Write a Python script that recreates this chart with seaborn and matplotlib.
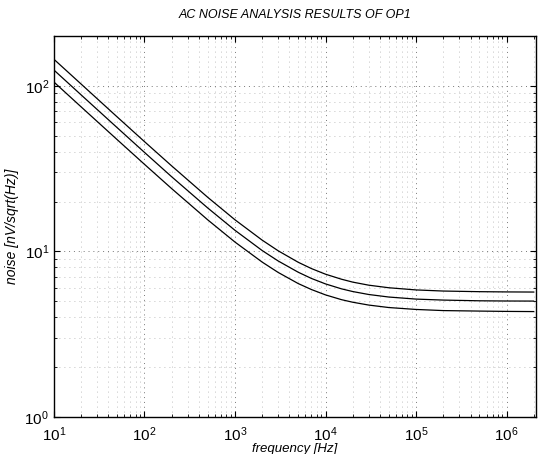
import matplotlib
matplotlib.use("Agg")
import matplotlib.pyplot as plt
import matplotlib.ticker as mticker
import numpy as np
import pandas as pd
import seaborn as sns

# frequency points (Hz)
freq = [10, 20, 50, 100, 200, 500, 1e3, 2e3, 3e3, 5e3, 7e3, 1e4, 1.5e4, 2e4,
        3e4, 5e4, 1e5, 2e5, 5e5, 1e6, 2e6]

# noise curves, nV/sqrt(Hz)
noise_top = [144.5, 102.3, 64.8, 46.0, 32.8, 21.2, 15.51, 11.68, 10.08, 8.59,
             7.87, 7.28, 6.79, 6.52, 6.25, 6.03, 5.85, 5.76, 5.71, 5.69, 5.68]
noise_mid = [124.4, 88.0, 55.8, 39.6, 28.2, 18.28, 13.40, 10.11, 8.75, 7.48,
             6.86, 6.36, 5.94, 5.72, 5.49, 5.30, 5.15, 5.08, 5.03, 5.015, 5.01]
noise_low = [105.3, 74.5, 47.25, 33.55, 23.92, 15.50, 11.38, 8.61, 7.46, 6.39,
             5.88, 5.46, 5.11, 4.93, 4.74, 4.58, 4.46, 4.39, 4.36, 4.34, 4.33]

df = pd.DataFrame({
    "freq": freq * 3,
    "noise": noise_top + noise_mid + noise_low,
    "curve": ["top"] * len(freq) + ["mid"] * len(freq) + ["low"] * len(freq),
})

sns.set_style("ticks")
plt.rcParams["font.family"] = ["Liberation Sans", "DejaVu Sans"]
plt.rcParams["text.color"] = "black"
plt.rcParams["axes.labelcolor"] = "black"
plt.rcParams["xtick.color"] = "black"
plt.rcParams["ytick.color"] = "black"

fig = plt.figure(figsize=(5.39, 4.54), dpi=100)
ax = fig.add_axes([0.100, 0.0815, 0.894, 0.8395])

sns.lineplot(data=df, x="freq", y="noise", units="curve", estimator=None,
             color="black", linewidth=0.9, ax=ax, legend=False)

ax.set_xscale("log")
ax.set_yscale("log")
ax.set_xlim(10, 2.1e6)
ax.set_ylim(1, 200)

ax.xaxis.set_major_locator(mticker.LogLocator(base=10, numticks=10))
ax.yaxis.set_major_locator(mticker.LogLocator(base=10, numticks=10))
ax.xaxis.set_minor_locator(mticker.LogLocator(base=10, subs=np.arange(2, 10), numticks=20))
ax.yaxis.set_minor_locator(mticker.LogLocator(base=10, subs=np.arange(2, 10), numticks=20))
ax.yaxis.set_minor_formatter(mticker.NullFormatter())
ax.xaxis.set_minor_formatter(mticker.NullFormatter())

ax.grid(which="major", color="#777777", linestyle=(0, (1, 4)), linewidth=0.7)
ax.grid(which="minor", color="#aaaaaa", linestyle=(0, (1, 5)), linewidth=0.6)

ax.tick_params(which="both", direction="in", top=True, right=True, labelsize=11)
ax.tick_params(axis="x", which="major", pad=6)
ax.tick_params(which="major", length=4)
ax.tick_params(which="minor", length=2)
for s in ax.spines.values():
    s.set_linewidth(1.0)
    s.set_color("black")

ax.set_title("AC NOISE ANALYSIS RESULTS OF OP1", fontsize=9, style="italic", pad=13)
ax.set_xlabel("frequency [Hz]", fontsize=9.5, style="italic", labelpad=-1)
ax.set_ylabel("noise [nV/sqrt(Hz)]", fontsize=10, style="italic", labelpad=4)

fig.savefig("out.png", dpi=100)
